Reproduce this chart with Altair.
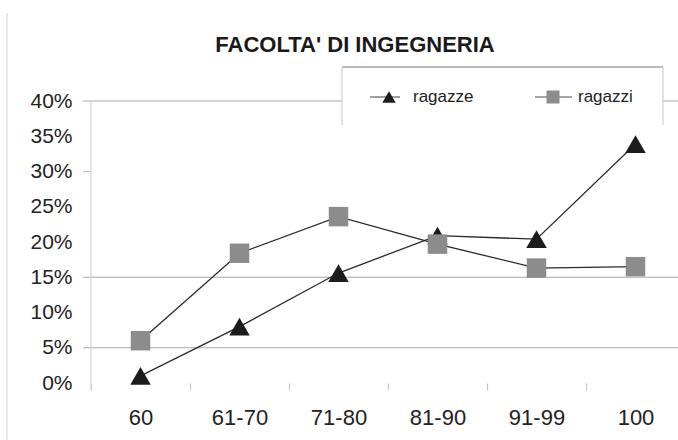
import altair as alt
import pandas as pd

# Voto di laurea: quota di studenti per fascia, Facoltà di Ingegneria
categories = ["60", "61-70", "71-80", "81-90", "91-99", "100"]
ragazze = [0.010, 0.080, 0.156, 0.209, 0.204, 0.339]
ragazzi = [0.060, 0.184, 0.236, 0.197, 0.163, 0.165]
series_names = ["ragazze", "ragazzi"]
chart_title = "FACOLTA' DI INGEGNERIA"

y_ticks = [0.0, 0.05, 0.10, 0.15, 0.20, 0.25, 0.30, 0.35, 0.40]
grid_levels = [0.05, 0.15, 0.40]
minor_tick_levels = [0.30]

FONT = "Liberation Sans"
W, H = 587, 282
X_RANGE = 594

df = pd.DataFrame({
    "fascia": categories * 2,
    "serie": [series_names[0]] * len(categories) + [series_names[1]] * len(categories),
    "quota": ragazze + ragazzi,
})

x_enc = alt.X(
    "fascia:N",
    sort=categories,
    bandPosition=0.5,
    scale=alt.Scale(type="band", range=[0, X_RANGE], paddingInner=0, paddingOuter=0),
    axis=alt.Axis(
        title=None, grid=False, domain=False, tickBand="extent",
        tickSize=7, tickColor="#c8c8c8", tickWidth=1.2,
        labelAngle=0, labelFont=FONT, labelFontSize=22, labelColor="#222222",
        labelBaseline="middle", labelPadding=27,
    ),
)

y_enc = alt.Y(
    "quota:Q",
    scale=alt.Scale(domain=[0, 0.4], nice=False),
    axis=alt.Axis(
        title=None, grid=False, domain=False, ticks=False, tickSize=0,
        values=y_ticks, format=".0%",
        labelFont=FONT, labelFontSize=21, labelColor="#222222", labelPadding=19,
    ),
)

# horizontal gridlines and the lone tick on the value axis
grid = alt.Chart(pd.DataFrame({"quota": grid_levels})).mark_rule(
    color="#a9a9a9", strokeWidth=1.2
).encode(y=y_enc, x=alt.value(-8), x2=alt.value(620))

minor_ticks = alt.Chart(pd.DataFrame({"quota": minor_tick_levels})).mark_rule(
    color="#c0c0c0", strokeWidth=1.2
).encode(y=y_enc, x=alt.value(-8), x2=alt.value(0))

one_row = pd.DataFrame({"k": [0]})

y_domain = alt.Chart(one_row).mark_rule(color="#d4d4d4", strokeWidth=1.2).encode(
    x=alt.value(0), y=alt.value(0), y2=alt.value(289)
)

frame_left = alt.Chart(one_row).mark_rule(color="#dcdcdc", strokeWidth=1.2).encode(
    x=alt.value(-84), y=alt.value(-88), y2=alt.value(339)
)

title_text = alt.Chart(pd.DataFrame({"titolo": [chart_title]})).mark_text(
    align="center", baseline="middle", font=FONT, fontSize=22, fontWeight="bold",
    color="#1a1a1a",
).encode(x=alt.value(264), y=alt.value(-56), text="titolo:N")

# legend box (open at the bottom)
LX0, LX1, LY0, LY1 = 251, 572, -34, 24
legend_bg = alt.Chart(one_row).mark_rect(fill="white").encode(
    x=alt.value(LX0), x2=alt.value(LX1), y=alt.value(LY0), y2=alt.value(LY1)
)
legend_top = alt.Chart(one_row).mark_rule(color="#a4a4a4", strokeWidth=1.6).encode(
    x=alt.value(LX0), x2=alt.value(LX1), y=alt.value(LY0)
)
legend_sides = [
    alt.Chart(one_row).mark_rule(color="#d0d0d0", strokeWidth=1.2).encode(
        x=alt.value(xv), y=alt.value(LY0), y2=alt.value(LY1)
    )
    for xv in (LX0, LX1)
]


def legend_entry(name, shape, color, size, line_x0, line_x1, marker_x, text_x):
    d = pd.DataFrame({"serie": [name]})
    ly = -4
    line = alt.Chart(d).mark_rule(color="#8a8a8a", strokeWidth=1.6).encode(
        x=alt.value(line_x0), x2=alt.value(line_x1), y=alt.value(ly)
    )
    marker = alt.Chart(d).mark_point(
        shape=shape, filled=True, size=size, color=color, opacity=1
    ).encode(x=alt.value(marker_x), y=alt.value(ly))
    label = alt.Chart(d).mark_text(
        align="left", baseline="middle", font=FONT, fontSize=17, color="#222222"
    ).encode(x=alt.value(text_x), y=alt.value(ly), text="serie:N")
    return [line, marker, label]


TRI_COLOR = "#1c1c1c"
SQ_COLOR = "#8c8c8c"

legend_items = (
    legend_entry(series_names[0], "triangle-up", TRI_COLOR, 180, 279, 309, 298, 322)
    + legend_entry(series_names[1], "square", SQ_COLOR, 169, 444, 481, 462, 487)
)

lines = alt.Chart(df).mark_line(color="#2a2a2a", strokeWidth=1.3).encode(
    x=x_enc, y=y_enc, detail="serie:N"
)

triangles = alt.Chart(df).transform_filter(
    alt.datum.serie == series_names[0]
).mark_point(shape="triangle-up", filled=True, size=420, color=TRI_COLOR, opacity=1).encode(
    x=x_enc, y=y_enc
)

squares = alt.Chart(df).transform_filter(
    alt.datum.serie == series_names[1]
).mark_point(shape="square", filled=True, size=380, color=SQ_COLOR, opacity=1).encode(
    x=x_enc, y=y_enc
)

chart = alt.layer(
    grid, minor_ticks, frame_left, y_domain, title_text,
    legend_bg, legend_top, *legend_sides, *legend_items,
    lines, triangles, squares,
).properties(
    width=W,
    height=H,
    autosize=alt.AutoSizeParams(type="none"),
    padding={"left": 91, "top": 101, "right": 0, "bottom": 57},
    background="white",
).configure_view(stroke=None)

chart.save("out.html", embed_options={"renderer": "svg", "actions": False})
